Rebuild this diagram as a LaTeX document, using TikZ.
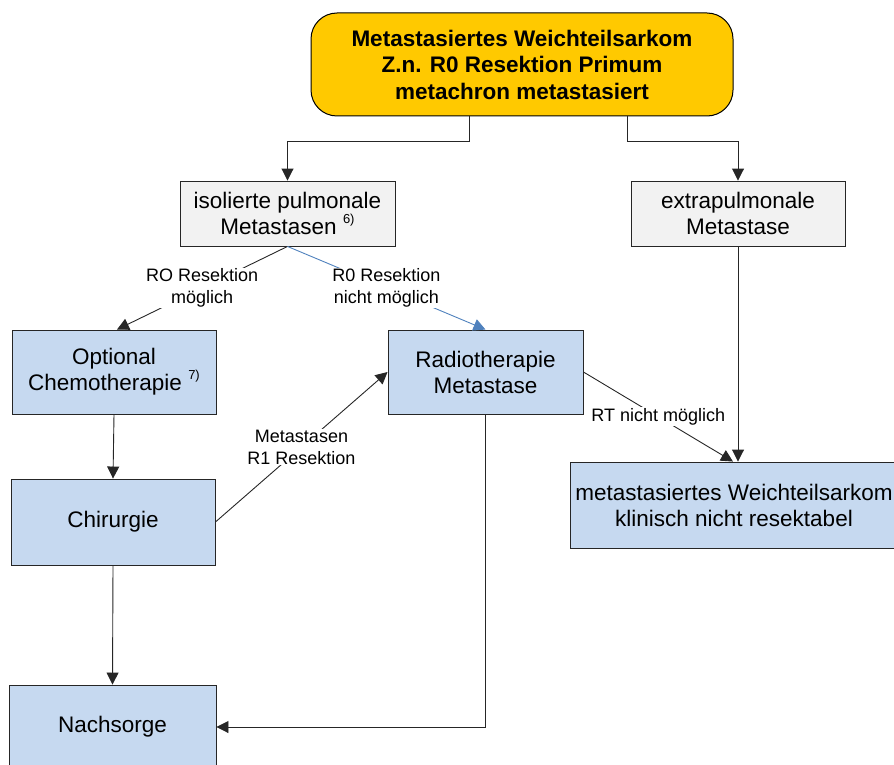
\documentclass[tikz,border=0pt]{standalone}
\usepackage{fontspec}
\setmainfont{Liberation Sans}
\usetikzlibrary{arrows.meta}
\definecolor{gold}{RGB}{255,201,0}
\definecolor{lblue}{RGB}{198,217,240}
\definecolor{lgray}{RGB}{242,242,242}
\definecolor{linkblue}{RGB}{79,129,189}
\begin{document}
\begin{tikzpicture}[x=1pt,y=-1pt,
  every node/.style={font=\fontsize{22.5}{26}\selectfont, align=center, inner sep=0pt},
  box/.style={draw=black!85, line width=0.9pt, rectangle},
  graybox/.style={box, fill=lgray},
  bluebox/.style={box, fill=lblue},
  conn/.style={draw=black!85, line width=0.9pt, -{Triangle[length=12pt,width=12pt]}},
  bconn/.style={draw=linkblue, line width=0.9pt, -{Triangle[length=12pt,width=12pt]}},
  lbl/.style={fill=white, font=\fontsize{18}{22}\selectfont, inner sep=1pt}]
\useasboundingbox (0,0) rectangle (894,765);
\node[draw=black, line width=1pt, fill=gold, rounded corners=26pt, minimum width=422pt, minimum height=103pt,
      font=\fontsize{22.5}{26.5}\selectfont\bfseries] (top) at (522,64.5)
  {Metastasiertes Weichteilsarkom\\Z.n. R0 Resektion Primum\\metachron metastasiert};
\node[graybox, minimum width=215pt, minimum height=65pt] (iso) at (287.5,213.5)
  {isolierte pulmonale\\Metastasen \raisebox{0.5em}{\fontsize{13}{13}\selectfont 6)}};
\node[graybox, minimum width=214pt, minimum height=65pt] (extra) at (738,213.5)
  {extrapulmonale\\Metastase};
\node[bluebox, minimum width=204pt, minimum height=84pt] (chemo) at (114,372)
  {Optional\\Chemotherapie \raisebox{0.5em}{\fontsize{13}{13}\selectfont 7)}};
\node[bluebox, minimum width=195pt, minimum height=84pt] (radio) at (485.5,372)
  {Radiotherapie\\Metastase};
\node[bluebox, minimum width=204pt, minimum height=86pt] (chir) at (113,522)
  {Chirurgie};
\node[bluebox, minimum width=328pt, minimum height=86pt] (met) at (734,505)
  {metastasiertes Weichteilsarkom\\klinisch nicht resektabel};
\node[bluebox, minimum width=207pt, minimum height=84pt] (nach) at (112.5,727)
  {Nachsorge};

\draw[conn] ([xshift=-53pt]top.south) -- ++(0,25) -| (iso.north);
\draw[conn] ([xshift=105pt]top.south) -- ++(0,25) -| (extra.north);
\draw[conn] (iso.south) -- node[lbl] {RO Resektion\\möglich} ([xshift=3pt]chemo.north);
\draw[bconn] (iso.south) -- node[lbl] {R0 Resektion\\nicht möglich} (radio.north);
\draw[conn] (chemo.south) -- (chir.north);
\draw[conn] (chir.east) -- node[lbl] {Metastasen\\R1 Resektion} (radio.west);
\draw[conn] (radio.east) -- node[lbl] {RT nicht möglich} ([xshift=-1pt]met.north);
\draw[conn] (extra.south) -- (extra.south |- met.north);
\draw[conn] (radio.south) |- (nach.east);
\draw[conn] (chir.south) -- (nach.north);
\end{tikzpicture}
\end{document}
